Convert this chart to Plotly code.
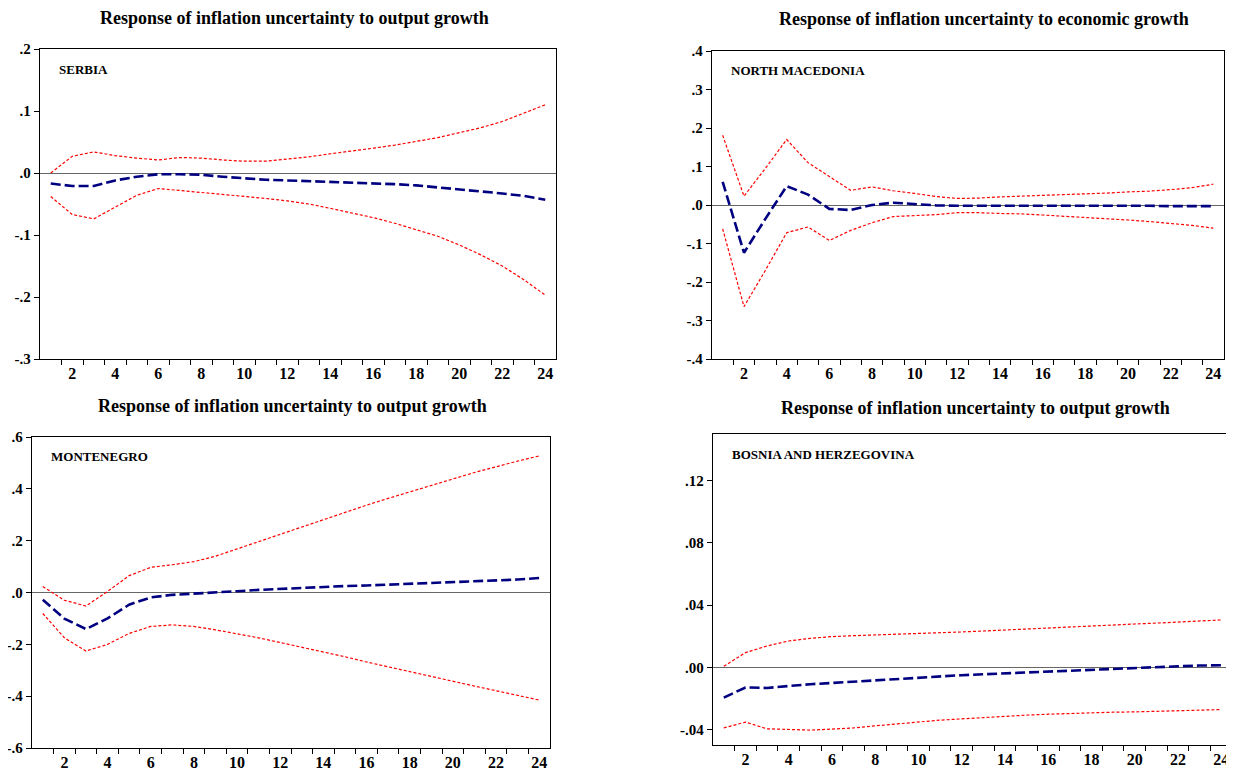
import plotly.graph_objects as go

periods = list(range(1, 25))

serbia_mid = [-0.017, -0.021, -0.021, -0.012, -0.006, -0.002, -0.002, -0.003, -0.006, -0.009, -0.011, -0.012,
              -0.013, -0.014, -0.015, -0.016, -0.018, -0.020, -0.023, -0.026, -0.029, -0.033, -0.037, -0.043]
serbia_up = [0.000, 0.027, 0.034, 0.028, 0.024, 0.021, 0.025, 0.024, 0.021, 0.019, 0.019, 0.022,
             0.026, 0.031, 0.035, 0.040, 0.045, 0.051, 0.057, 0.065, 0.073, 0.083, 0.096, 0.110]
serbia_lo = [-0.038, -0.067, -0.074, -0.055, -0.036, -0.025, -0.028, -0.032, -0.034, -0.037, -0.041, -0.045,
             -0.050, -0.057, -0.064, -0.072, -0.081, -0.091, -0.102, -0.116, -0.132, -0.150, -0.172, -0.197]

nmac_mid = [0.060, -0.124, -0.036, 0.049, 0.027, -0.010, -0.013, 0.000, 0.006, 0.003, -0.001, -0.002,
            -0.002, -0.001, -0.001, -0.001, -0.001, -0.002, -0.002, -0.002, -0.002, -0.003, -0.003, -0.003]
nmac_up = [0.181, 0.023, 0.095, 0.170, 0.110, 0.073, 0.038, 0.047, 0.037, 0.030, 0.022, 0.017,
           0.018, 0.021, 0.023, 0.024, 0.026, 0.029, 0.031, 0.034, 0.036, 0.040, 0.045, 0.054]
nmac_lo = [-0.062, -0.264, -0.170, -0.072, -0.057, -0.092, -0.066, -0.046, -0.030, -0.027, -0.025, -0.020,
           -0.020, -0.022, -0.023, -0.026, -0.029, -0.032, -0.036, -0.039, -0.043, -0.048, -0.053, -0.060]

mont_mid = [-0.028, -0.101, -0.141, -0.100, -0.047, -0.019, -0.009, -0.005, -0.001, 0.005, 0.010, 0.014,
            0.018, 0.022, 0.025, 0.027, 0.030, 0.033, 0.036, 0.039, 0.043, 0.046, 0.050, 0.056]
mont_up = [0.023, -0.030, -0.052, 0.004, 0.065, 0.097, 0.107, 0.119, 0.140, 0.168, 0.198, 0.226,
           0.255, 0.283, 0.310, 0.337, 0.363, 0.389, 0.414, 0.438, 0.463, 0.486, 0.507, 0.527]
mont_lo = [-0.081, -0.175, -0.226, -0.200, -0.158, -0.131, -0.125, -0.131, -0.144, -0.159, -0.175, -0.193,
           -0.211, -0.229, -0.248, -0.268, -0.287, -0.306, -0.325, -0.343, -0.361, -0.379, -0.396, -0.415]

bih_mid = [-0.0195, -0.0130, -0.0133, -0.0120, -0.0109, -0.0101, -0.0092, -0.0083, -0.0075, -0.0066, -0.0058, -0.0051,
           -0.0045, -0.0039, -0.0032, -0.0028, -0.0021, -0.0015, -0.0009, -0.0002, 0.0002, 0.0006, 0.0011, 0.0013]
bih_up = [0.0006, 0.0094, 0.0137, 0.0169, 0.0186, 0.0197, 0.0203, 0.0207, 0.0212, 0.0216, 0.0220, 0.0227,
          0.0233, 0.0240, 0.0246, 0.0252, 0.0259, 0.0265, 0.0272, 0.0278, 0.0284, 0.0290, 0.0295, 0.0304]
bih_lo = [-0.0390, -0.0353, -0.0396, -0.0402, -0.0404, -0.0398, -0.0390, -0.0377, -0.0364, -0.0351, -0.0340, -0.0332,
          -0.0323, -0.0317, -0.0308, -0.0302, -0.0297, -0.0293, -0.0289, -0.0287, -0.0282, -0.0278, -0.0276, -0.0272]

titles = ["Response of inflation uncertainty to output growth",
          "Response of inflation uncertainty to economic growth",
          "Response of inflation uncertainty to output growth",
          "Response of inflation uncertainty to output growth"]
countries = ["SERBIA", "NORTH MACEDONIA", "MONTENEGRO", "BOSNIA AND HERZEGOVINA"]

serbia_yticks = [0.2, 0.1, 0.0, -0.1, -0.2, -0.3]
serbia_ylabels = [".2", ".1", ".0", "-.1", "-.2", "-.3"]
nmac_yticks = [0.4, 0.3, 0.2, 0.1, 0.0, -0.1, -0.2, -0.3, -0.4]
nmac_ylabels = [".4", ".3", ".2", ".1", ".0", "-.1", "-.2", "-.3", "-.4"]
mont_yticks = [0.6, 0.4, 0.2, 0.0, -0.2, -0.4, -0.6]
mont_ylabels = [".6", ".4", ".2", ".0", "-.2", "-.4", "-.6"]
bih_yticks = [0.12, 0.08, 0.04, 0.0, -0.04]
bih_ylabels = [".12", ".08", ".04", ".00", "-.04"]

x_labels = [str(v) for v in range(2, 25, 2)]

# page has an 8px body margin: figure covers page pixels 8..1234 x 8..771
OFF = 8
W, H = 1234 - OFF, 771 - OFF
# panel frames in page pixels: (left, right, top, bottom)
panels = [
    dict(mid=serbia_mid, up=serbia_up, lo=serbia_lo, yr=[-0.3, 0.2], yt=serbia_yticks, yl=serbia_ylabels,
         box=(40, 556, 49, 359), tx=294),
    dict(mid=nmac_mid, up=nmac_up, lo=nmac_lo, yr=[-0.4, 0.4], yt=nmac_yticks, yl=nmac_ylabels,
         box=(712, 1224, 51, 359), tx=984),
    dict(mid=mont_mid, up=mont_up, lo=mont_lo, yr=[-0.6, 0.6], yt=mont_yticks, yl=mont_ylabels,
         box=(32, 550, 437, 748), tx=292),
    dict(mid=bih_mid, up=bih_up, lo=bih_lo, yr=[-0.05, 0.15], yt=bih_yticks, yl=bih_ylabels,
         box=(713, 1232, 434, 745), tx=975),
]
title_y = [18, 19, 406, 408]

FONT = "Liberation Serif"
fig = go.Figure()
annotations = []
for i, p in enumerate(panels):
    n = i + 1
    xa = "x" if n == 1 else f"x{n}"
    ya = "y" if n == 1 else f"y{n}"
    for key, color, dash, width in [("up", "#ff0000", "3px,2px", 1.2), ("lo", "#ff0000", "3px,2px", 1.2),
                                    ("mid", "#000080", "10px,4px", 2.6)]:
        fig.add_trace(go.Scatter(x=periods, y=p[key], mode="lines", xaxis=xa, yaxis=ya,
                                 line=dict(color=color, dash=dash, width=width), showlegend=False,
                                 hoverinfo="skip"))
    l, r, t, b = [v - OFF for v in p["box"]]
    xdom = [l / W, r / W]
    ydom = [1 - b / H, 1 - t / H]
    xkey = "xaxis" if n == 1 else f"xaxis{n}"
    ykey = "yaxis" if n == 1 else f"yaxis{n}"
    fig.update_layout(**{
        xkey: dict(domain=xdom, anchor=ya, range=[0.5, 24.5], showgrid=False, zeroline=False,
                   showline=True, mirror=True, linecolor="black", linewidth=1.3,
                   tickmode="array", tickvals=list(range(2, 25, 2)), ticktext=x_labels, ticks="",
                   tickfont=dict(family=FONT, size=16, color="black", weight="bold"),
                   minor=dict(tickmode="array", tickvals=[k + 0.5 for k in range(1, 24)],
                              ticks="outside", ticklen=5, tickcolor="black", tickwidth=1),
                   automargin=False, fixedrange=True),
        ykey: dict(domain=ydom, anchor=xa, range=p["yr"], showgrid=False,
                   zeroline=True, zerolinecolor="#666666", zerolinewidth=1.2,
                   showline=True, mirror=True, linecolor="black", linewidth=1.3,
                   tickmode="array", tickvals=p["yt"], ticktext=p["yl"], ticks="outside",
                   ticklen=5, tickcolor="black", tickwidth=1,
                   tickfont=dict(family=FONT, size=15, color="black", weight="bold"),
                   automargin=False, fixedrange=True),
    })
    annotations.append(dict(text=titles[i], xref="paper", yref="paper", x=(p["tx"] - OFF) / W,
                            y=1 - (title_y[i] - OFF) / H, xanchor="center", yanchor="middle",
                            showarrow=False,
                            font=dict(family=FONT, size=18, color="black", weight="bold")))
    annotations.append(dict(text=countries[i], xref="paper", yref="paper", x=(l + 17) / W,
                            y=1 - (t + 20) / H, xanchor="left", yanchor="middle", showarrow=False,
                            font=dict(family=FONT, size=13, color="black", weight="bold")))

fig.update_layout(width=W, height=H, margin=dict(l=0, r=0, t=0, b=0), paper_bgcolor="white",
                  plot_bgcolor="white", annotations=annotations, showlegend=False)
fig.write_html("out.html")
